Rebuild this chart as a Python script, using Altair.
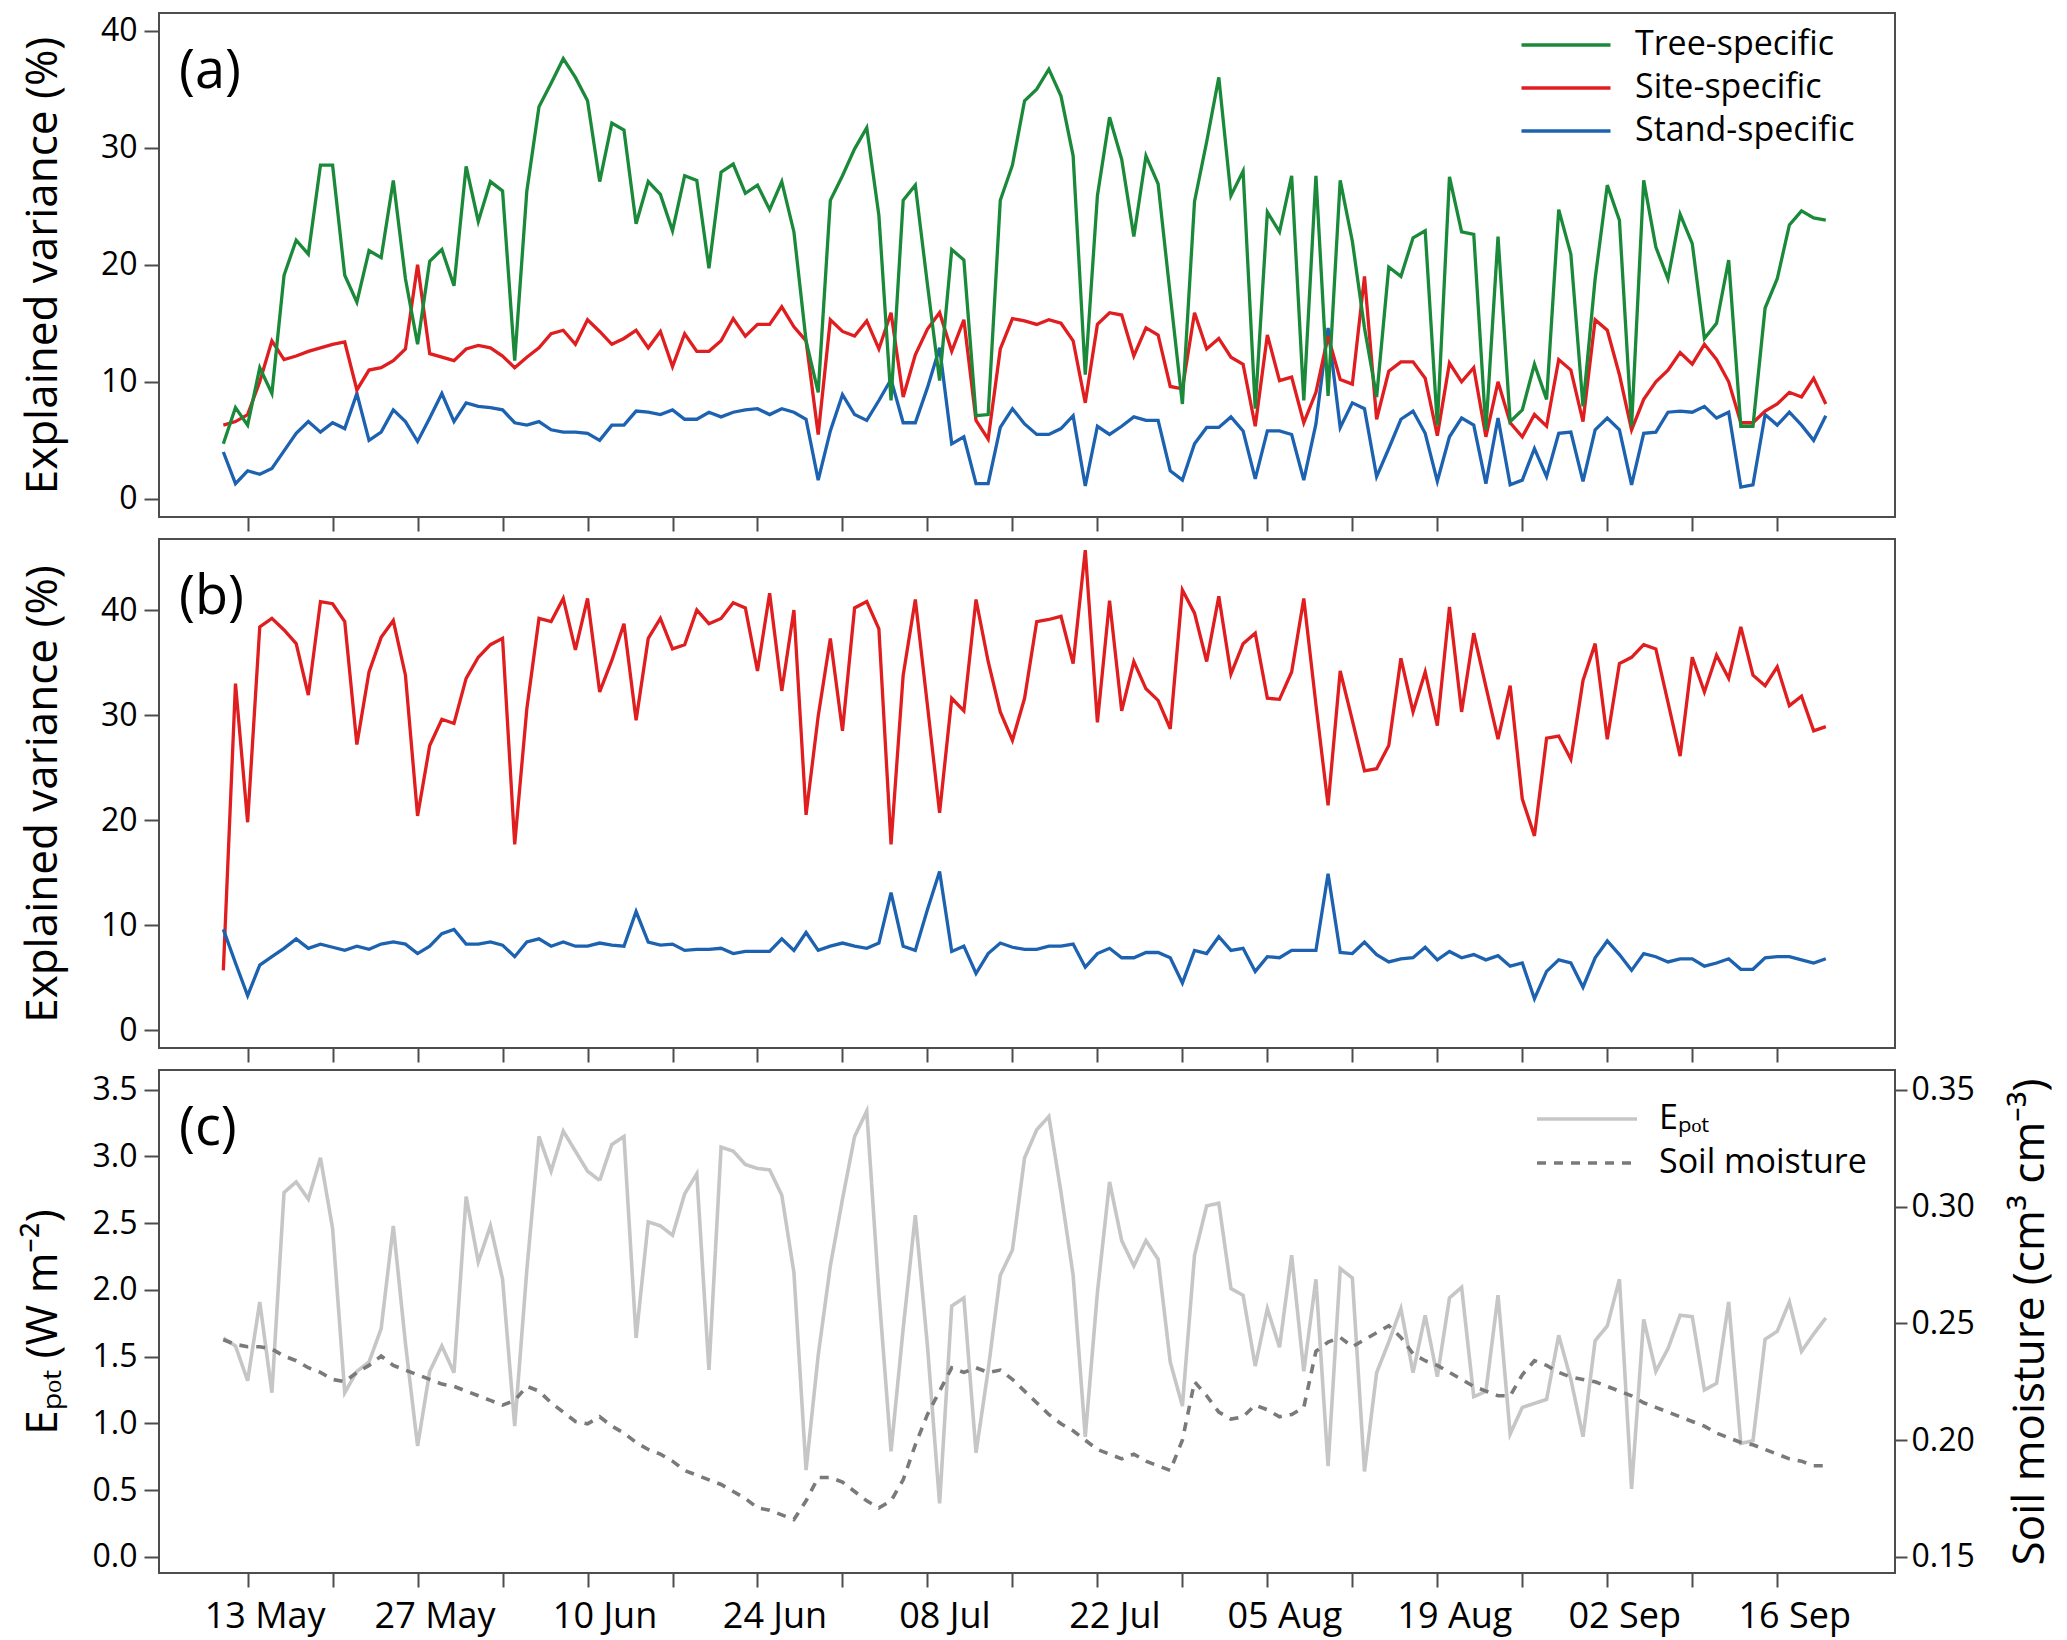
import json

import altair as alt
import pandas as pd

# ── Daily values ────────────────────────────────────────────────────────────
# day 0 = 13 May; the series run from 11 May (day -2) to 20 Sep (day 130)
first_day = -2

# (a) explained variance (%)
tree_a = [
    4.7, 7.8, 6.3, 11.2, 9.0, 19.1, 22.1, 20.9, 28.5, 28.5,
    19.1, 16.8, 21.2, 20.6, 27.2, 18.8, 13.2, 20.3, 21.3, 18.2,
    28.4, 23.7, 27.1, 26.3, 11.8, 26.3, 33.5, 35.5, 37.6, 36.0,
    34.0, 27.1, 32.1, 31.5, 23.5, 27.1, 26.0, 22.9, 27.6, 27.2,
    19.7, 27.9, 28.6, 26.1, 26.8, 24.7, 27.1, 22.8, 13.5, 9.1,
    25.5, 27.6, 29.9, 31.7, 24.2, 8.4, 25.5, 26.8, 18.3, 10.1,
    21.3, 20.4, 7.1, 7.2, 25.5, 28.5, 34.0, 35.0, 36.7, 34.4,
    29.3, 10.6, 25.9, 32.6, 29.0, 22.4, 29.3, 26.9, 17.4, 8.1,
    25.4, 30.5, 36.0, 25.9, 28.0, 7.7, 24.5, 22.8, 27.6, 8.4,
    27.6, 8.8, 27.2, 22.0, 14.6, 8.7, 19.8, 19.0, 22.3, 22.9,
    6.3, 27.5, 22.8, 22.6, 5.9, 22.4, 6.6, 7.6, 11.5, 8.5,
    24.7, 20.9, 7.9, 18.8, 26.8, 23.8, 6.2, 27.2, 21.5, 18.8,
    24.3, 21.8, 13.7, 15.0, 20.4, 6.2, 6.2, 16.3, 18.8, 23.4,
    24.6, 24.0, 23.8,
]
site_a = [
    6.3, 6.6, 7.2, 10.0, 13.5, 11.9, 12.2, 12.6, 12.9, 13.2,
    13.4, 9.3, 11.0, 11.2, 11.8, 12.8, 20.0, 12.4, 12.1, 11.8,
    12.8, 13.1, 12.9, 12.2, 11.2, 12.1, 12.9, 14.1, 14.4, 13.2,
    15.3, 14.3, 13.2, 13.7, 14.4, 12.9, 14.3, 11.3, 14.1, 12.6,
    12.6, 13.5, 15.4, 13.9, 14.9, 14.9, 16.4, 14.7, 13.5, 5.5,
    15.3, 14.3, 13.9, 15.2, 12.8, 15.9, 8.7, 12.3, 14.5, 15.9,
    12.6, 15.3, 6.7, 5.1, 12.8, 15.4, 15.2, 14.9, 15.3, 15.0,
    13.5, 8.2, 14.9, 15.9, 15.7, 12.2, 14.6, 14.0, 9.6, 9.4,
    15.9, 12.8, 13.7, 12.1, 11.5, 6.2, 14.0, 10.1, 10.4, 6.5,
    9.1, 13.9, 10.2, 9.8, 19.0, 6.8, 10.9, 11.7, 11.7, 10.3,
    5.4, 11.6, 10.0, 11.2, 5.3, 10.0, 6.5, 5.3, 7.2, 6.2,
    11.9, 11.0, 6.6, 15.3, 14.4, 10.6, 5.9, 8.5, 10.0, 11.0,
    12.5, 11.5, 13.2, 11.9, 10.0, 6.5, 6.5, 7.5, 8.1, 9.1,
    8.7, 10.3, 8.1,
]
stand_a = [
    4.0, 1.3, 2.4, 2.1, 2.6, 4.1, 5.6, 6.6, 5.7, 6.5,
    6.0, 9.0, 5.0, 5.7, 7.6, 6.6, 4.9, 6.9, 9.0, 6.6,
    8.2, 7.9, 7.8, 7.6, 6.5, 6.3, 6.6, 5.9, 5.7, 5.7,
    5.6, 5.0, 6.3, 6.3, 7.5, 7.4, 7.2, 7.6, 6.8, 6.8,
    7.4, 7.0, 7.4, 7.6, 7.7, 7.2, 7.7, 7.4, 6.8, 1.6,
    5.8, 8.9, 7.2, 6.7, 8.4, 10.2, 6.5, 6.5, 9.5, 12.9,
    4.7, 5.3, 1.3, 1.3, 6.1, 7.7, 6.4, 5.5, 5.5, 6.0,
    7.1, 1.1, 6.2, 5.5, 6.2, 7.0, 6.7, 6.7, 2.4, 1.6,
    4.7, 6.1, 6.1, 7.0, 5.8, 1.7, 5.8, 5.8, 5.5, 1.6,
    6.4, 14.6, 6.1, 8.2, 7.7, 1.9, 4.3, 6.8, 7.5, 5.6,
    1.5, 5.3, 6.9, 6.3, 1.3, 6.9, 1.2, 1.6, 4.3, 1.9,
    5.6, 5.7, 1.5, 5.9, 6.9, 5.9, 1.2, 5.6, 5.7, 7.4,
    7.5, 7.4, 7.9, 6.9, 7.4, 1.0, 1.2, 7.2, 6.3, 7.4,
    6.3, 5.0, 7.1,
]

# (b) explained variance (%)
site_b = [
    5.7, 33.0, 19.8, 38.4, 39.2, 38.1, 36.8, 31.9, 40.8, 40.6,
    38.9, 27.2, 34.1, 37.4, 39.0, 33.8, 20.4, 27.1, 29.6, 29.2,
    33.5, 35.5, 36.7, 37.3, 17.7, 30.6, 39.2, 38.9, 41.1, 36.2,
    41.1, 32.2, 35.2, 38.7, 29.5, 37.3, 39.2, 36.3, 36.7, 40.0,
    38.7, 39.2, 40.7, 40.2, 34.2, 41.6, 32.3, 40.0, 20.5, 29.9,
    37.3, 28.5, 40.2, 40.8, 38.2, 17.7, 33.8, 41.0, 30.9, 20.7,
    31.6, 30.4, 41.0, 35.1, 30.3, 27.6, 31.6, 38.9, 39.1, 39.4,
    34.9, 45.7, 29.3, 40.9, 30.4, 35.1, 32.5, 31.4, 28.7, 41.9,
    39.7, 35.1, 41.3, 33.9, 36.8, 37.8, 31.6, 31.5, 34.1, 41.1,
    31.0, 21.4, 34.2, 29.5, 24.7, 24.9, 27.1, 35.4, 30.3, 34.1,
    29.0, 40.3, 30.3, 37.8, 32.7, 27.7, 32.8, 22.0, 18.5, 27.8,
    28.0, 25.8, 33.3, 36.8, 27.7, 34.9, 35.5, 36.7, 36.3, 31.2,
    26.1, 35.5, 32.2, 35.7, 33.5, 38.4, 33.8, 32.8, 34.6, 30.9,
    31.8, 28.5, 28.9,
]
stand_b = [
    9.6, 6.4, 3.3, 6.2, 7.0, 7.8, 8.7, 7.8, 8.2, 7.9,
    7.6, 8.0, 7.7, 8.2, 8.4, 8.2, 7.3, 8.0, 9.2, 9.6,
    8.2, 8.2, 8.4, 8.1, 7.0, 8.4, 8.7, 8.0, 8.4, 8.0,
    8.0, 8.3, 8.1, 8.0, 11.3, 8.4, 8.1, 8.2, 7.6, 7.7,
    7.7, 7.8, 7.3, 7.5, 7.5, 7.5, 8.7, 7.6, 9.3, 7.6,
    8.0, 8.3, 8.0, 7.8, 8.3, 13.1, 8.0, 7.6, 11.5, 15.1,
    7.5, 8.0, 5.4, 7.3, 8.3, 7.9, 7.7, 7.7, 8.0, 8.0,
    8.2, 6.0, 7.3, 7.8, 6.9, 6.9, 7.4, 7.4, 6.9, 4.5,
    7.6, 7.3, 8.9, 7.6, 7.8, 5.6, 7.0, 6.9, 7.6, 7.6,
    7.6, 14.9, 7.4, 7.3, 8.4, 7.2, 6.5, 6.8, 6.9, 7.9,
    6.7, 7.5, 6.9, 7.2, 6.7, 7.1, 6.1, 6.4, 3.0, 5.6,
    6.7, 6.4, 4.1, 6.9, 8.5, 7.2, 5.7, 7.3, 7.0, 6.5,
    6.8, 6.8, 6.1, 6.4, 6.8, 5.8, 5.8, 6.9, 7.0, 7.0,
    6.7, 6.4, 6.8,
]

# (c) potential evaporation (W m-2) and soil moisture (cm3 cm-3)
epot = [
    1.64, 1.58, 1.32, 1.91, 1.23, 2.73, 2.81, 2.68, 2.99, 2.46,
    1.23, 1.39, 1.46, 1.71, 2.48, 1.60, 0.83, 1.39, 1.58, 1.38,
    2.70, 2.21, 2.48, 2.08, 0.98, 2.15, 3.15, 2.89, 3.19, 3.04,
    2.89, 2.82, 3.09, 3.15, 1.64, 2.51, 2.48, 2.41, 2.72, 2.87,
    1.40, 3.07, 3.04, 2.94, 2.91, 2.90, 2.71, 2.13, 0.65, 1.51,
    2.18, 2.68, 3.15, 3.34, 1.98, 0.79, 1.71, 2.56, 1.58, 0.40,
    1.88, 1.94, 0.78, 1.40, 2.11, 2.30, 2.99, 3.20, 3.30, 2.73,
    2.11, 0.90, 1.98, 2.81, 2.37, 2.18, 2.37, 2.23, 1.46, 1.13,
    2.26, 2.63, 2.65, 2.01, 1.96, 1.43, 1.86, 1.57, 2.26, 1.39,
    2.08, 0.68, 2.16, 2.09, 0.64, 1.38, 1.61, 1.86, 1.38, 1.81,
    1.35, 1.94, 2.02, 1.20, 1.24, 1.96, 0.92, 1.12, 1.15, 1.18,
    1.66, 1.33, 0.90, 1.62, 1.73, 2.08, 0.51, 1.78, 1.39, 1.56,
    1.81, 1.80, 1.25, 1.30, 1.91, 0.85, 0.87, 1.63, 1.69, 1.91,
    1.54, 1.67, 1.79,
]
soil = [
    0.243, 0.241, 0.240, 0.240, 0.239, 0.236, 0.234, 0.231, 0.229, 0.226,
    0.225, 0.229, 0.232, 0.236, 0.232, 0.230, 0.228, 0.226, 0.224, 0.223,
    0.221, 0.219, 0.217, 0.215, 0.217, 0.223, 0.221, 0.216, 0.212, 0.208,
    0.207, 0.210, 0.206, 0.203, 0.199, 0.196, 0.194, 0.191, 0.187, 0.185,
    0.183, 0.181, 0.178, 0.175, 0.171, 0.170, 0.168, 0.166, 0.174, 0.184,
    0.184, 0.182, 0.178, 0.174, 0.171, 0.174, 0.183, 0.198, 0.211, 0.221,
    0.231, 0.229, 0.231, 0.229, 0.230, 0.226, 0.221, 0.216, 0.211, 0.207,
    0.204, 0.200, 0.196, 0.194, 0.192, 0.194, 0.191, 0.189, 0.187, 0.200,
    0.225, 0.219, 0.212, 0.209, 0.210, 0.215, 0.213, 0.210, 0.211, 0.214,
    0.238, 0.242, 0.244, 0.240, 0.243, 0.246, 0.249, 0.244, 0.237, 0.234,
    0.232, 0.229, 0.226, 0.223, 0.221, 0.219, 0.219, 0.228, 0.234, 0.232,
    0.229, 0.227, 0.226, 0.225, 0.223, 0.221, 0.219, 0.216, 0.214, 0.212,
    0.210, 0.208, 0.206, 0.203, 0.201, 0.199, 0.198, 0.196, 0.194, 0.192,
    0.191, 0.189, 0.189,
]

tick_labels = ["13 May", "27 May", "10 Jun", "24 Jun", "08 Jul",
               "22 Jul", "05 Aug", "19 Aug", "02 Sep", "16 Sep"]
pct_ticks = [0, 10, 20, 30, 40]
epot_ticks = [0.0, 0.5, 1.0, 1.5, 2.0, 2.5, 3.0, 3.5]
soil_ticks = [0.15, 0.20, 0.25, 0.30, 0.35]

names_a = ["Tree-specific", "Site-specific", "Stand-specific"]
names_b = ["Site-specific", "Stand-specific"]
names_c = ["E\u209a\u2092\u209c", "Soil moisture"]

# ── Style ───────────────────────────────────────────────────────────────────
FONT = "Open Sans"
INK = "#4d4d4d"
GREEN, RED, BLUE = "#1a8a3a", "#e01d1f", "#1c62b0"
W = 1736
X_DOMAIN = [-7.3, 135.7]
week_ticks = list(range(0, 127, 7))
label_expr = (f"datum.value % 14 === 0 ? {json.dumps(tick_labels)}"
              "[datum.value / 14] : ''")

days = list(range(first_day, first_day + len(tree_a)))


def long_frame(names, series):
    return pd.concat(
        [pd.DataFrame({"day": days, "value": vals, "series": name})
         for name, vals in zip(names, series)],
        ignore_index=True,
    )


def x_enc(show_labels):
    if show_labels:
        axis = alt.Axis(values=week_ticks, labelExpr=label_expr, tickSize=14,
                        labelPadding=12, labelFontSize=36, labelOffset=17,
                        labelOverlap=False, labelFlush=False)
    else:
        axis = alt.Axis(values=week_ticks, labels=False, tickSize=14)
    return alt.X("day:Q", title=None, axis=axis,
                 scale=alt.Scale(domain=X_DOMAIN, nice=False, zero=False))


def left_axis(values, fmt):
    return alt.Axis(values=values, format=fmt, tickSize=15, labelPadding=7,
                    minExtent=66, maxExtent=66, titlePadding=28,
                    labelOverlap=False)


def line_legend(x, y, size, width, gap):
    return alt.Legend(title=None, orient="none", legendX=x, legendY=y,
                      symbolType="M-2,0H2", symbolSize=size,
                      symbolStrokeWidth=width, labelFont=FONT,
                      labelFontSize=34, labelColor="black", labelOffset=45,
                      labelLimit=500, rowPadding=gap, padding=0)


def panel_label(text):
    return (
        alt.Chart(pd.DataFrame({"label": [text]}))
        .mark_text(font=FONT, fontSize=54, align="left",
                   baseline="alphabetic", color="black")
        .encode(x=alt.value(20), y=alt.value(75), text="label:N")
    )


# ── (a) ─────────────────────────────────────────────────────────────────────
# stand-specific first so it is drawn underneath the other two
lines_a = (
    alt.Chart(long_frame(names_a[::-1], [stand_a, site_a, tree_a]))
    .mark_line(strokeWidth=3.3)
    .encode(
        x=x_enc(False),
        y=alt.Y("value:Q", title="Explained variance (%)",
                scale=alt.Scale(domain=[-1.55, 41.5], nice=False, zero=False),
                axis=left_axis(pct_ticks, "d")),
        color=alt.Color("series:N",
                        scale=alt.Scale(domain=names_a,
                                        range=[GREEN, RED, BLUE]),
                        legend=line_legend(1383, 8, 1980, 3.3, 2)),
    )
)
panel_a = alt.layer(lines_a, panel_label("(a)")).properties(width=W, height=504)

# ── (b) ─────────────────────────────────────────────────────────────────────
lines_b = (
    alt.Chart(long_frame(names_b, [site_b, stand_b]))
    .mark_line(strokeWidth=3.3)
    .encode(
        x=x_enc(False),
        y=alt.Y("value:Q", title="Explained variance (%)",
                scale=alt.Scale(domain=[-1.69, 46.76], nice=False, zero=False),
                axis=left_axis(pct_ticks, "d")),
        color=alt.Color("series:N",
                        scale=alt.Scale(domain=names_b, range=[RED, BLUE]),
                        legend=None),
    )
)
panel_b = alt.layer(lines_b, panel_label("(b)")).properties(width=W, height=509)

# ── (c) ─────────────────────────────────────────────────────────────────────
legend_c = line_legend(1401, 22, 2500, 3.5, 0)
color_c = alt.Color("series:N",
                    scale=alt.Scale(domain=names_c, range=["#c6c6c6", "#7a7a7a"]),
                    legend=legend_c)
dash_c = alt.StrokeDash("series:N",
                        scale=alt.Scale(domain=names_c, range=[[1, 0], [9, 8]]),
                        legend=legend_c)

epot_line = (
    alt.Chart(long_frame(names_c[:1], [epot]))
    .mark_line(strokeWidth=3.6)
    .encode(
        x=x_enc(True),
        y=alt.Y("value:Q", title="E\u209a\u2092\u209c (W m\u207b\u00b2)",
                scale=alt.Scale(domain=[-0.121, 3.648], nice=False, zero=False),
                axis=left_axis(epot_ticks, ".1f")),
        color=color_c,
        strokeDash=dash_c,
    )
)
soil_line = (
    alt.Chart(long_frame(names_c[1:], [soil]))
    .mark_line(strokeWidth=3.6)
    .encode(
        x=x_enc(True),
        y=alt.Y("value:Q", title="Soil moisture (cm\u00b3 cm\u207b\u00b3)",
                scale=alt.Scale(domain=[0.1431, 0.3585], nice=False, zero=False),
                axis=alt.Axis(orient="right", values=soil_ticks, format=".2f",
                              tickSize=12, labelPadding=4, minExtent=88,
                              maxExtent=88, titleAngle=270,
                              titleBaseline="top", titlePadding=25,
                              labelOverlap=False)),
        color=color_c,
        strokeDash=dash_c,
    )
)
panel_c = (
    alt.layer(epot_line, soil_line, panel_label("(c)"))
    .resolve_scale(y="independent")
    .properties(width=W, height=503)
)

# ── Combine ─────────────────────────────────────────────────────────────────
chart = (
    alt.vconcat(panel_a, panel_b, panel_c, spacing=22, bounds="flush")
    .resolve_scale(color="independent", strokeDash="independent")
    .properties(padding={"left": 12, "top": 4, "right": 4, "bottom": 4},
                background="white")
    .configure_view(stroke=INK, strokeWidth=2)
    .configure_axis(grid=False, domain=False, tickColor=INK, tickWidth=2,
                    labelFont=FONT, labelFontSize=32, labelColor="black",
                    titleFont=FONT, titleFontSize=44, titleFontWeight="normal",
                    titleColor="black")
)

chart.save("out.html", embed_options={"renderer": "svg", "actions": False})
